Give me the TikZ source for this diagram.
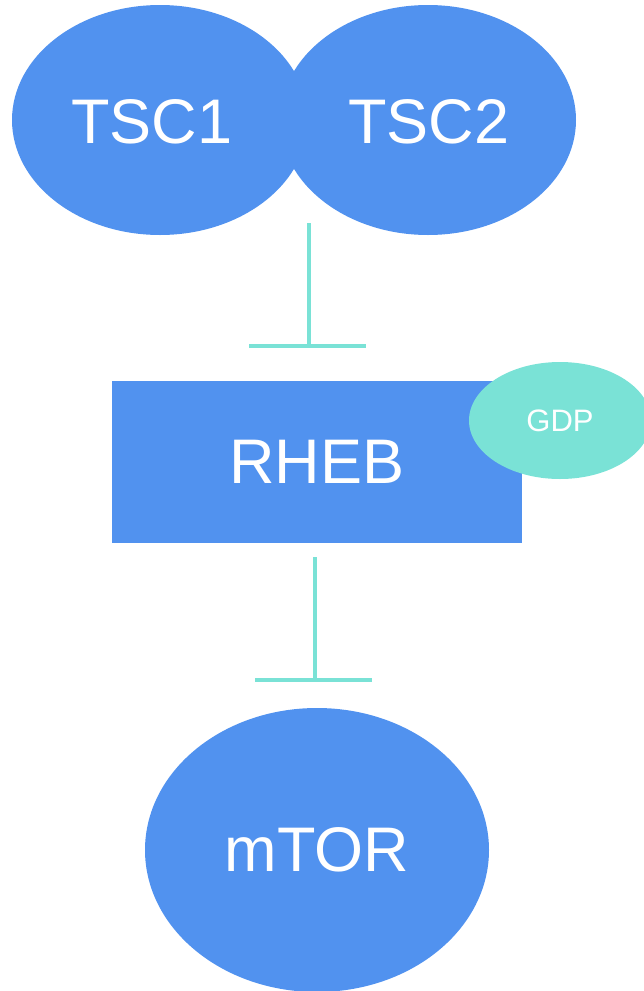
\documentclass[tikz,border=0pt]{standalone}
\usepackage{fontspec}
\setmainfont{Liberation Sans}
\usetikzlibrary{shapes.geometric}
\definecolor{nodeblue}{RGB}{81,146,239}
\definecolor{teal}{RGB}{122,226,214}
\begin{document}
\begin{tikzpicture}[x=1pt,y=-1pt,
  blob/.style={ellipse,fill=nodeblue,draw=none,inner sep=0pt,text=white},
  inhib/.style={draw=teal,line width=4.5pt},
  big/.style={font=\fontsize{63}{72}\selectfont}]
\useasboundingbox (0,0) rectangle (644,991);
\node[blob,minimum width=296pt,minimum height=230pt] (tsc2) at (428,120) {};
\node[blob,minimum width=296pt,minimum height=230pt] (tsc1) at (160,120) {};
\node[big,text=white] (t1) at (152,122) {TSC1};
\node[big,text=white] (t2) at (429,122) {TSC2};
\node[fill=nodeblue,minimum width=410pt,minimum height=162pt,inner sep=0pt,text=white,big] (rheb) at (317,462) {RHEB};
\node[ellipse,fill=teal,minimum width=182pt,minimum height=117pt,inner sep=0pt,text=white,font=\fontsize{31}{36}\selectfont] (gdp) at (560,420.5) {GDP};
\node[blob,minimum width=344pt,minimum height=284pt,big] (mtor) at (317,850) {mTOR};
\coordinate (a1) at (309,223);
\coordinate (a2) at (309,346);
\coordinate (a2l) at (249,346);
\coordinate (a2r) at (366,346);
\draw[inhib] (a1) -- (a2);
\draw[inhib] (a2l) -- (a2r);
\coordinate (b1) at (315,557);
\coordinate (b2) at (315,680);
\coordinate (b2l) at (255,680);
\coordinate (b2r) at (372,680);
\draw[inhib] (b1) -- (b2);
\draw[inhib] (b2l) -- (b2r);
\end{tikzpicture}
\end{document}
